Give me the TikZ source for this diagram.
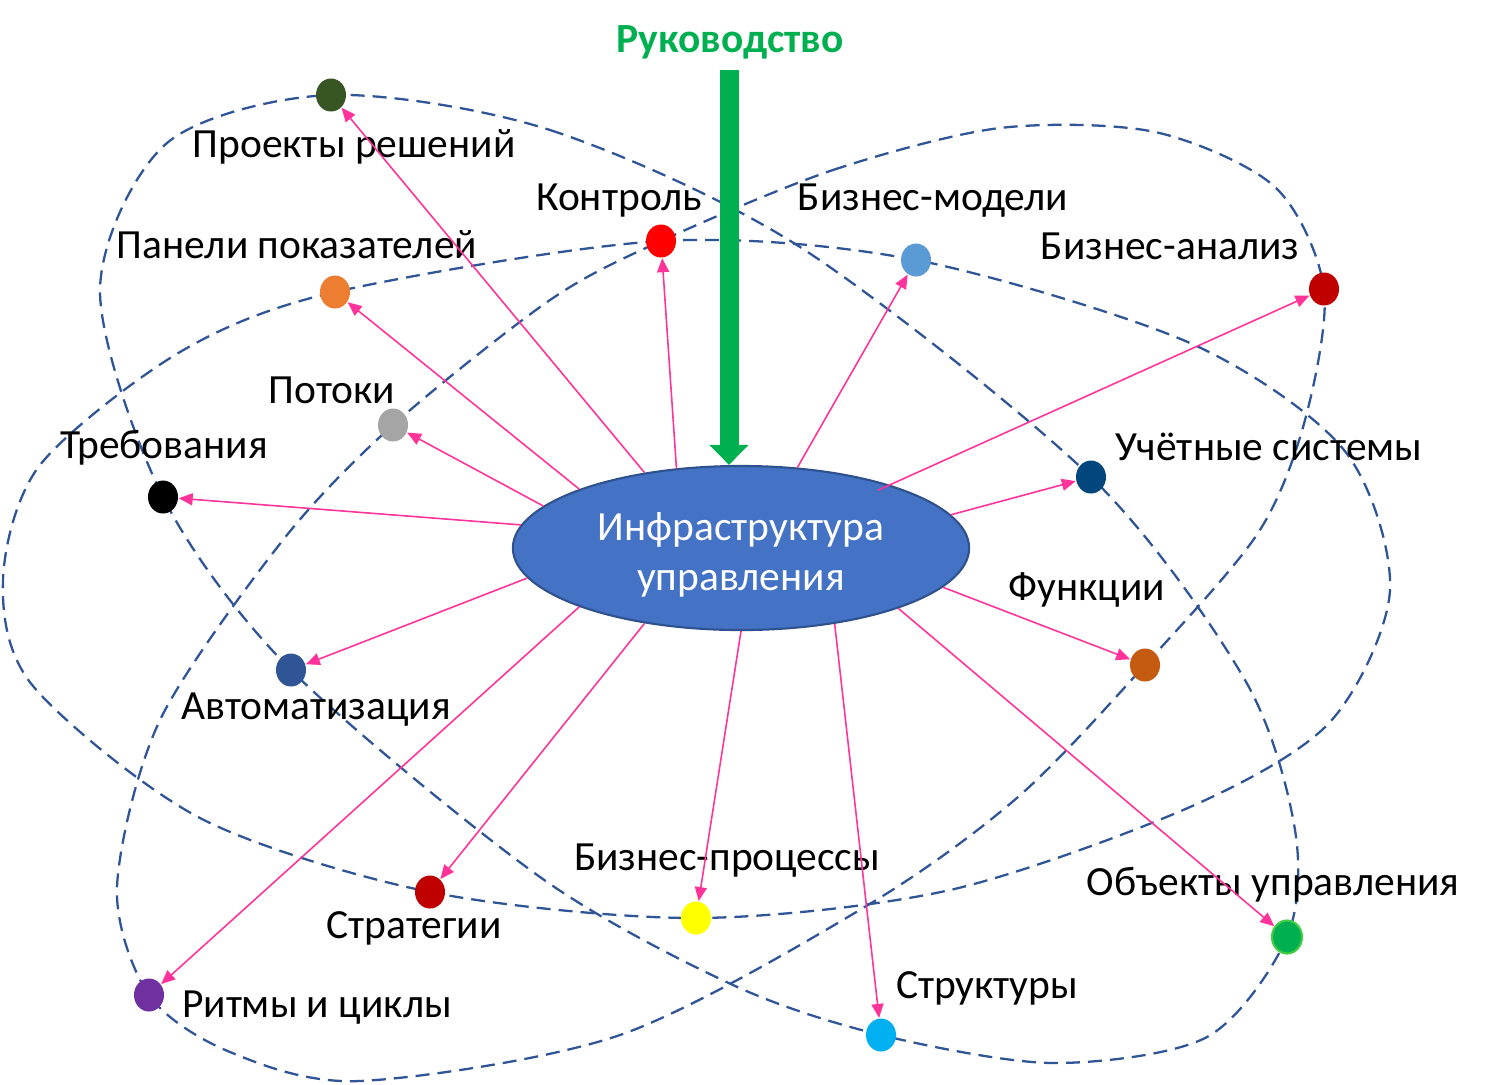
\documentclass[tikz,border=0pt]{standalone}
\usepackage{fontspec}
\setmainfont{Carlito}
\usepackage{xcolor}
\usepackage{tikz}
\definecolor{orbit}{HTML}{2F5597}
\definecolor{linkpink}{HTML}{FF3399}
\definecolor{infrafill}{HTML}{4472C4}
\definecolor{infradraw}{HTML}{2F528F}
\definecolor{leadgreen}{HTML}{00B050}
\definecolor{obektyrim}{HTML}{45CC45}
\definecolor{cproekty}{HTML}{375623}
\definecolor{cpaneli}{HTML}{ED7D31}
\definecolor{cbmodeli}{HTML}{5B9BD5}
\definecolor{cdarkred}{HTML}{C00000}
\definecolor{cpotoki}{HTML}{A5A5A5}
\definecolor{cuchet}{HTML}{02467E}
\definecolor{cfunkcii}{HTML}{C55A11}
\definecolor{cavtomat}{HTML}{2F5597}
\definecolor{cbproc}{HTML}{FFFF00}
\definecolor{cobekty}{HTML}{00B050}
\definecolor{critmy}{HTML}{7030A0}
\definecolor{cstruktury}{HTML}{00B0F0}
\tikzset{
   spot/.style={ellipse,minimum width=0.30cm,minimum height=0.33cm,inner sep=0,fill=#1},
   lbl/.style={anchor=base,inner sep=0,font=\fontsize{11.8}{14.2}\selectfont},
 }
\usetikzlibrary{shapes.geometric,arrows.meta,backgrounds}

\begin{document}
\begin{tikzpicture}[x=0.01cm,y=-0.01cm,
      link/.style={-{Triangle[length=0.14cm,width=0.12cm]},linkpink,line width=0.45pt},
      orbitline/.style={orbit,line width=0.65pt,dash pattern=on 0.14cm off 0.08cm},
      leadarrow/.style={-{Triangle[length=0.2cm,width=0.38cm]},leadgreen,line width=0.19cm},
      ]
      \useasboundingbox (0,0) rectangle (1485,1084);
      \node (infra) at (741,548) [ellipse,fill=infrafill,draw=infradraw,line width=0.6pt,
        minimum width=4.56cm,minimum height=1.64cm,inner sep=0,text=white,align=center,
        font=\fontsize{11.8}{14.2}\selectfont] {\rule{0pt}{0.42cm}Инфраструктура\\управления};

      \node (proekty) at (331,95) [spot=cproekty] {};
      \node (paneli) at (335,292) [spot=cpaneli] {};
      \node (kontrol) at (661,241) [spot=red] {};
      \node (bmodeli) at (916,260) [spot=cbmodeli] {};
      \node (banaliz) at (1324,289) [spot=cdarkred] {};
      \node (potoki) at (393,425) [spot=cpotoki] {};
      \node (treb) at (163,497) [spot=black] {};
      \node (uchet) at (1091,477) [spot=cuchet] {};
      \node (funkcii) at (1145,665) [spot=cfunkcii] {};
      \node (avtomat) at (291,670) [spot=cavtomat] {};
      \node (strateg) at (430,892) [spot=cdarkred] {};
      \node (bproc) at (696,918) [spot=cbproc] {};
      \node (obekty) at (1287,937) [spot=cobekty,draw=obektyrim,line width=0.6pt] {};
      \node (ritmy) at (149,995) [spot=critmy] {};
      \node (struktury) at (881,1035) [spot=cstruktury] {};

      \node (lproekty) at (354,157) [lbl] {Проекты решений};
      \node (lpaneli) at (297,258) [lbl] {Панели показателей};
      \node (lkontrol) at (619,210) [lbl] {Контроль};
      \node (lbmodeli) at (933,210) [lbl] {Бизнес-модели};
      \node (lbanaliz) at (1170,259) [lbl] {Бизнес-анализ};
      \node (lpotoki) at (332,403) [lbl] {Потоки};
      \node (ltreb) at (164,458) [lbl] {Требования};
      \node (luchet) at (1269,460) [lbl] {Учётные системы};
      \node (lfunkcii) at (1087,600) [lbl] {Функции};
      \node (lavtomat) at (316,719) [lbl] {Автоматизация};
      \node (lstrateg) at (414,938) [lbl] {Стратегии};
      \node (lbproc) at (727,870) [lbl] {Бизнес-процессы};
      \node (lobekty) at (1273,895) [lbl] {Объекты управления};
      \node (lritmy) at (317,1017) [lbl] {Ритмы и циклы};
      \node (lstruktury) at (987,998) [lbl] {Структуры};
      \node (leadlabel) at (730,52) [anchor=base,inner sep=0,text=leadgreen,
        font=\bfseries\fontsize{11.8}{14}\selectfont] {Руководство};

      \begin{scope}[on background layer]
        \draw [orbitline] plot [smooth cycle] coordinates {(proekty.center) (550,130) (800,247)
          (uchet.center) (1245,680) (1295,830) (obekty.center) (1207,1037) (1053,1063)
          (struktury.center) (733,985) (540,877) (avtomat.center) (treb.center) (100,290) (167,143)};
        \draw [orbitline] plot [smooth cycle] coordinates {(paneli.center) (kontrol.center)
          (bmodeli.center) (1190,343) (1344,450) (1390,590) (1330,722) (1190,807) (950,890)
          (bproc.center) (strateg.center) (200,818) (33,686) (3,580) (40,465) (180,352)};
        \draw [orbitline] plot [smooth cycle] coordinates {(kontrol.center) (833,170) (1000,128)
          (1155,132) (1275,187) (banaliz.center) (1305,420) (1258,533) (funkcii.center)
          (1018,797) (868,905) (620,1035) (360,1081) (230,1052) (ritmy.center) (117,887)
          (160,720) (283,540) (potoki.center) (550,300)};
      \end{scope}

      \draw [link] (infra.142.9) to (proekty);
      \draw [link] (infra.160.2) to (paneli);
      \draw [link] (infra.129.6) to (kontrol);
      \draw [link] (infra.55.2) to (bmodeli);
      \draw [link,shorten <=-0.13cm] (infra.23) to (banaliz);
      \draw [link] (infra.168.9) to (potoki);
      \draw [link] (infra.174.9) to (treb);
      \draw [link] (infra.9.7) to (uchet);
      \draw [link] (infra.349.8) to (funkcii);
      \draw [link] (infra.188) to (avtomat);
      \draw [link] (infra.218.9) to (strateg);
      \draw [link] (infra.270.7) to (bproc);
      \draw [link] (infra.339.3) to (obekty);
      \draw [link] (infra.200.7) to (ritmy);
      \draw [link] (infra.321.6) to (struktury);

      \coordinate (leadtop) at (729,70);
      \draw [leadarrow] (leadtop) -- (leadtop |- infra.north);
    \end{tikzpicture}
\end{document}
